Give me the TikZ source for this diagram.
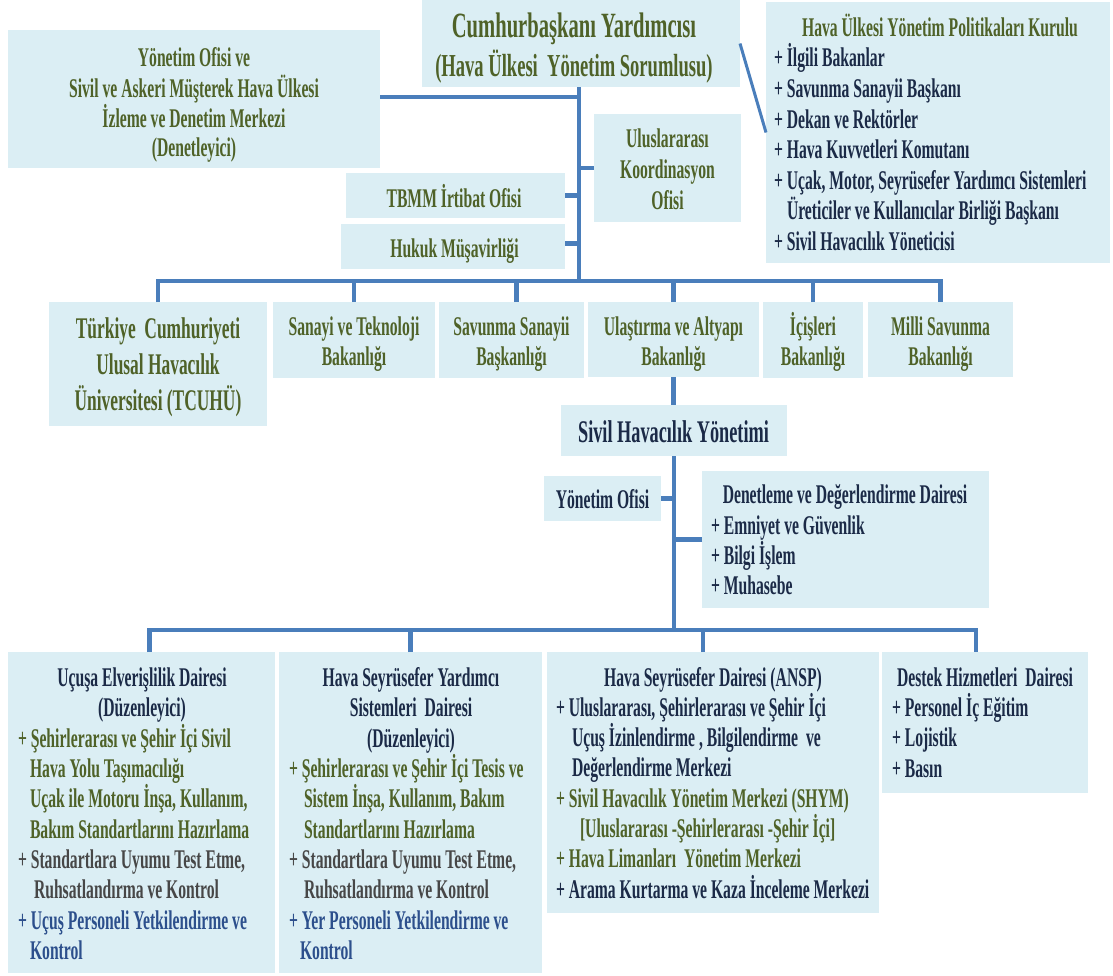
\documentclass[tikz,border=0pt]{standalone}
\usepackage{fontspec}
\setmainfont{Liberation Serif}[FakeStretch=0.58]
\definecolor{tgreen}{HTML}{4F6228}
\definecolor{tnavy}{HTML}{1B2A47}
\definecolor{tgray}{HTML}{474747}
\definecolor{tblue}{HTML}{2C4F8C}
\definecolor{boxfill}{HTML}{DBEEF4}
\definecolor{linecol}{HTML}{4A7EBB}
\tikzset{
  box/.style={fill=boxfill, draw=none, inner sep=0pt, outer sep=0pt, anchor=north west},
  ln/.style={draw=linecol, line width=4.5pt},
  lnthin/.style={draw=linecol, line width=3pt},
  tl/.style={inner sep=0pt, outer sep=0pt, yshift=-1pt, font=\bfseries\fontsize{27}{32}\selectfont},
  big/.style={font=\bfseries\fontsize{30}{34}\selectfont},
}
\newcommand\Bx[5]{\node[box, minimum width=#4pt, minimum height=#5pt] (#1) at (#2,#3) {};}
\newcommand\TxC[4]{\node[tl, text=#3, anchor=base] (#1) at (#2) {#4};}
\newcommand\TxL[4]{\node[tl, text=#3, anchor=base west] (#1) at (#2) {#4};}
\begin{document}
\begin{tikzpicture}[x=1pt, y=-1pt]
\fill[white] (0,0) rectangle (1113,975);
\useasboundingbox (0,0) rectangle (1113,975);
% boxes
\Bx{vp}{422}{0}{318}{87}
\Bx{yo}{8}{30}{372}{138}
\Bx{kur}{766}{2}{344}{261}
\Bx{uko}{594}{114}{147}{108}
\Bx{tbmm}{346}{173}{219}{45}
\Bx{huk}{341}{224}{224}{45}
\Bx{tcu}{49}{302}{218}{124}
\Bx{san}{273}{302}{162}{76}
\Bx{sav}{439}{302}{145}{76}
\Bx{ula}{588}{302}{171}{75}
\Bx{ici}{763}{302}{100}{76}
\Bx{mil}{868}{302}{145}{75}
\Bx{shy}{561}{405}{226}{51}
\Bx{yo2}{544}{476}{117}{45}
\Bx{den}{702}{471}{287}{137}
\Bx{uce}{8}{652}{267}{321}
\Bx{hsy}{279}{652}{263}{321}
\Bx{ansp}{547}{652}{332}{261}
\Bx{des}{882}{652}{206}{141}
% junctions
\coordinate (j0) at (579,97);
\coordinate (j1) at (579,281);
\coordinate (j2) at (674,630);
% connectors
\draw[ln] (vp.south -| j1) -- (j1);
\draw[ln] (yo.east |- j0) -- (j0);
\draw[ln] (uko.west) -- (uko.west -| j1);
\draw[ln] (tbmm.east) -- (tbmm.east -| j1);
\draw[ln] ([yshift=3pt]huk.east) -- ([yshift=3pt]huk.east -| j1);
\draw[lnthin] (vp.east) -- (kur.west);
\draw[ln] (tcu.north) -- (tcu.north |- j1) -- (mil.north |- j1) -- (mil.north);
\foreach \n in {san,ula,ici} \draw[ln] (\n.north) -- (\n.north |- j1);
\draw[ln] ([xshift=5pt]sav.north) -- ([xshift=5pt]sav.north |- j1);
\draw[ln] (ula.south) -- (ula.south |- shy.north);
\draw[ln] (shy.south -| j2) -- (j2);
\draw[ln] (yo2.east) -- (yo2.east -| j2);
\draw[ln] (den.west) -- (den.west -| j2);
\draw[ln] ([xshift=8pt]uce.north) -- ([xshift=8pt]uce.north |- j2) -- ([xshift=-9pt]des.north |- j2) -- ([xshift=-9pt]des.north);
\draw[ln] (hsy.north) -- (hsy.north |- j2);
\draw[ln] ([xshift=-10pt]ansp.north) -- ([xshift=-10pt]ansp.north |- j2);
% top
\node[tl, font=\bfseries\fontsize{35.5}{40}\selectfont, text=tgreen, anchor=base] (vp1) at (574,36) {Cumhurbaşkanı Yardımcısı};
\node[tl, font=\bfseries\fontsize{32}{36}\selectfont, text=tgreen, anchor=base] (vp2) at (574,75) {(Hava Ülkesi~ Yönetim Sorumlusu)};
% yo
\TxC{yo1}{194,65}{tgreen}{Yönetim Ofisi ve}
\TxC{yo2t}{194,96}{tgreen}{Sivil ve Askeri Müşterek Hava Ülkesi}
\TxC{yo3}{194,126}{tgreen}{İzleme ve Denetim Merkezi}
\TxC{yo4}{194,155}{tgreen}{(Denetleyici)}
% kurul
\TxC{k0}{940,35}{tgreen}{Hava Ülkesi Yönetim Politikaları Kurulu}
\TxL{k1}{774,65}{tnavy}{+ İlgili Bakanlar}
\TxL{k2}{774,96}{tnavy}{+ Savunma Sanayii Başkanı}
\TxL{k3}{774,127}{tnavy}{+ Dekan ve Rektörler}
\TxL{k4}{774,157.5}{tnavy}{+ Hava Kuvvetleri Komutanı}
\TxL{k5}{774,188}{tnavy}{+ Uçak, Motor, Seyrüsefer Yardımcı Sistemleri}
\TxL{k6}{787,218.5}{tnavy}{Üreticiler ve Kullanıcılar Birliği Başkanı}
\TxL{k7}{774,249}{tnavy}{+ Sivil Havacılık Yöneticisi}
% uko, tbmm, hukuk
\TxC{u1}{667.5,146}{tgreen}{Uluslararası}
\TxC{u2}{667.5,177}{tgreen}{Koordinasyon}
\TxC{u3}{667.5,208}{tgreen}{Ofisi}
\TxC{tb1}{454,206}{tgreen}{TBMM İrtibat Ofisi}
\TxC{hk1}{454.5,256}{tgreen}{Hukuk Müşavirliği}
% row
\node[tl, big, text=tgreen, anchor=base] (tc1) at (158,337) {Türkiye~ Cumhuriyeti};
\node[tl, big, text=tgreen, anchor=base] (tc2) at (158,373) {Ulusal Havacılık};
\node[tl, big, text=tgreen, anchor=base] (tc3) at (158,409) {Üniversitesi (TCUHÜ)};
\TxC{sa1}{354,334}{tgreen}{Sanayi ve Teknoloji}
\TxC{sa2}{354,364}{tgreen}{Bakanlığı}
\TxC{sv1}{511.5,334}{tgreen}{Savunma Sanayii}
\TxC{sv2}{511.5,364}{tgreen}{Başkanlığı}
\TxC{ul1}{673.5,334}{tgreen}{Ulaştırma ve Altyapı}
\TxC{ul2}{673.5,364}{tgreen}{Bakanlığı}
\TxC{ic1}{813,334}{tgreen}{İçişleri}
\TxC{ic2}{813,364}{tgreen}{Bakanlığı}
\TxC{mi1}{940.5,334}{tgreen}{Milli Savunma}
\TxC{mi2}{940.5,364}{tgreen}{Bakanlığı}
% shy
\node[tl, font=\bfseries\fontsize{31.5}{36}\selectfont, text=tnavy, anchor=base] (sh1) at (673.5,441) {Sivil Havacılık Yönetimi};
\TxC{yo21}{602.5,507}{tnavy}{Yönetim Ofisi}
\TxC{d0}{845,502}{tnavy}{Denetleme ve Değerlendirme Dairesi}
\TxL{d1}{711,533}{tnavy}{+ Emniyet ve Güvenlik}
\TxL{d2}{711,563}{tnavy}{+ Bilgi İşlem}
\TxL{d3}{711,593}{tnavy}{+ Muhasebe}
% uce
\TxC{e1}{142,685}{tnavy}{Uçuşa Elverişlilik Dairesi}
\TxC{e2}{142,715.5}{tnavy}{(Düzenleyici)}
\TxL{e3}{18,746}{tgreen}{+ Şehirlerarası ve Şehir İçi Sivil}
\TxL{e4}{30,776}{tgreen}{Hava Yolu Taşımacılığı}
\TxL{e5}{30,806.5}{tgreen}{Uçak ile Motoru İnşa, Kullanım,}
\TxL{e6}{30,837}{tgreen}{Bakım Standartlarını Hazırlama}
\TxL{e7}{18,867}{tgray}{+ Standartlara Uyumu Test Etme,}
\TxL{e8}{34,897.5}{tgray}{Ruhsatlandırma ve Kontrol}
\TxL{e9}{18,928}{tblue}{+ Uçuş Personeli Yetkilendirme ve}
\TxL{e10}{30,958}{tblue}{Kontrol}
% hsy
\TxC{h1}{411,685}{tnavy}{Hava Seyrüsefer Yardımcı}
\TxC{h2}{411,715.5}{tnavy}{Sistemleri~ Dairesi}
\TxC{h3}{411,746}{tnavy}{(Düzenleyici)}
\TxL{h4}{289,776}{tgreen}{+ Şehirlerarası ve Şehir İçi Tesis ve}
\TxL{h5}{304,806.5}{tgreen}{Sistem İnşa, Kullanım, Bakım}
\TxL{h6}{304,837}{tgreen}{Standartlarını Hazırlama}
\TxL{h7}{289,867}{tgray}{+ Standartlara Uyumu Test Etme,}
\TxL{h8}{304,897.5}{tgray}{Ruhsatlandırma ve Kontrol}
\TxL{h9}{289,928}{tblue}{+ Yer Personeli Yetkilendirme ve}
\TxL{h10}{300,958}{tblue}{Kontrol}
% ansp
\TxC{a1}{713,685}{tnavy}{Hava Seyrüsefer Dairesi (ANSP)}
\TxL{a2}{556,715}{tnavy}{+ Uluslararası, Şehirlerarası ve Şehir İçi}
\TxL{a3}{572,745}{tnavy}{Uçuş İzinlendirme , Bilgilendirme~ ve}
\TxL{a4}{572,775.5}{tnavy}{Değerlendirme Merkezi}
\TxL{a5}{556,806}{tgreen}{+ Sivil Havacılık Yönetim Merkezi (SHYM)}
\TxL{a6}{580,836}{tgreen}{[Uluslararası -Şehirlerarası -Şehir İçi]}
\TxL{a7}{556,866}{tgreen}{+ Hava Limanları~ Yönetim Merkezi}
\TxL{a8}{556,897}{tnavy}{+ Arama Kurtarma ve Kaza İnceleme Merkezi}
% destek
\TxC{s1}{985,685}{tnavy}{Destek Hizmetleri~ Dairesi}
\TxL{s2}{892,715}{tnavy}{+ Personel İç Eğitim}
\TxL{s3}{892,745}{tnavy}{+ Lojistik}
\TxL{s4}{892,776}{tnavy}{+ Basın}
\end{tikzpicture}
\end{document}
